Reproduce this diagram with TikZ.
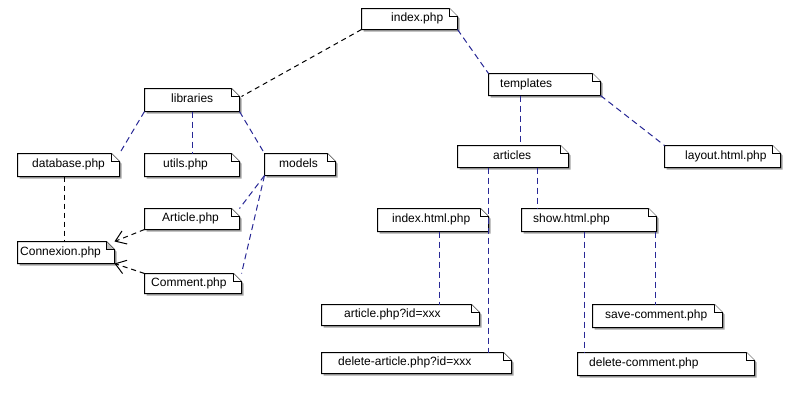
\documentclass[tikz,border=0pt]{standalone}
\usepackage{fontspec}
\setmainfont{Liberation Sans}
\usetikzlibrary{arrows.meta,calc}
\definecolor{cblue}{RGB}{40,40,150}
\definecolor{shadowc}{RGB}{165,165,165}
\definecolor{foldc}{RGB}{190,190,190}
\tikzset{
 notebase/.style={inner sep=0pt, outer sep=0pt, anchor=north west},
 lbl/.style={inner sep=0pt, anchor=west, font=\fontsize{12bp}{14bp}\selectfont, text height=8.5bp, text depth=2.5bp},
 bl/.style={draw=black, dash pattern=on 5bp off 4bp, line width=1bp},
 bu/.style={draw=cblue, dash pattern=on 6bp off 4bp, line width=1bp},
 dep/.style={bl, -{Straight Barb[length=10bp,width=14bp]}},
}
\newcommand\mknote[8][white]{%
 \node[notebase, minimum width={(#5-#3)*1bp}, minimum height={(#6-#4)*1bp}] (#2) at ({#3+0.5},{#4+0.5}) {};
 \fill[shadowc] ([shift={(2bp,-2bp)}]#2.south west) -- ([shift={(2bp,-2bp)}]#2.north west) -- ([shift={(-6bp,-2bp)}]#2.north east) -- ([shift={(2bp,-10bp)}]#2.north east) -- ([shift={(2bp,-2bp)}]#2.south east) -- cycle;
 \draw[fill=white, line width=1bp] (#2.south west) -- (#2.north west) -- ([xshift=-8bp]#2.north east) -- ([yshift=-8bp]#2.north east) -- (#2.south east) -- cycle;
 \draw[fill=#1, line width=0.8bp] ([xshift=-8bp]#2.north east) -- ([shift={(-8bp,-8bp)}]#2.north east) -- ([yshift=-8bp]#2.north east);
 \node[lbl] (#2-t) at (#7, {(#4+#6)/2}) {#8};
}
\begin{document}
\begin{tikzpicture}[x=1bp,y=-1bp]
\useasboundingbox[fill=white] (0,0) rectangle (803,406);
\mknote{index}{361}{8}{457}{29}{391}{index.php}
\mknote{templates}{488}{73}{600}{95}{500}{templates}
\mknote{articles}{457}{145}{568}{167}{493}{articles}
\mknote{layout}{664}{145}{780}{167}{685}{layout.html.php}
\mknote{libraries}{144}{88}{239}{111}{171}{libraries}
\mknote{database}{17}{153}{119}{176}{32}{database.php}
\mknote{utils}{144}{153}{239}{176}{163}{utils.php}
\mknote{models}{264}{153}{335}{175}{279}{models}
\mknote{article}{144}{208}{239}{229}{162}{Article.php}
\mknote[foldc]{connexion}{17}{241}{114}{263}{20}{Connexion.php}
\mknote{comment}{144}{273}{241}{293}{151}{Comment.php}
\mknote{indexhtml}{377}{208}{488}{231}{392}{index.html.php}
\mknote{articlephp}{321}{304}{479}{325}{344}{article.php?id=xxx}
\mknote{deletearticle}{321}{352}{511}{373}{338}{delete-article.php?id=xxx}
\mknote{show}{521}{208}{656}{231}{533}{show.html.php}
\mknote{savecomment}{592}{304}{722}{327}{605}{save-comment.php}
\mknote{deletecomment}{577}{352}{754}{375}{589}{delete-comment.php}
% connectors
\draw[bl] (index.south west) -- ([shift={(2bp,-8bp)}]libraries.north east);
\draw[bu] (index.south east) -- (templates.north west);
\draw[bu] ($(templates.south west)+(32,0)$) -- ($(articles.north west)+(63,0)$);
\draw[bu] (templates.south east) -- (layout.north west);
\draw[bu] (libraries.south west) -- (database.north east);
\draw[bu] ($(libraries.south west)+(48,0)$) -- ($(utils.north west)+(48,0)$);
\draw[bu] (libraries.south east) -- (models.north west);
\draw[bl] ($(database.south west)+(47,0)$) -- ($(connexion.north west)+(47,0)$);
\draw[dep] (article.south west) -- (connexion.north east);
\draw[dep] (comment.north west) -- (connexion.south east);
\draw[bu] (models.south west) -- (article.north east);
\draw[bu] (models.south west) -- (comment.north east);
\draw[bu] ($(articles.south west)+(31,0)$) -- ($(deletearticle.north west)+(167,0)$);
\draw[bu] ($(articles.south west)+(80,0)$) -- ($(show.north west)+(16,0)$);
\draw[bu] ($(indexhtml.south west)+(62,0)$) -- ($(articlephp.north west)+(118,0)$);
\draw[bu] ($(show.south west)+(63,0)$) -- ($(deletecomment.north west)+(7,0)$);
\draw[bu] ($(show.south west)+(134,0)$) -- ($(savecomment.north west)+(63,0)$);
\end{tikzpicture}
\end{document}
